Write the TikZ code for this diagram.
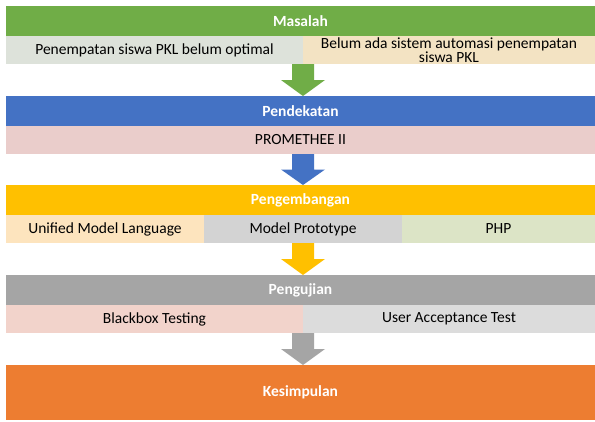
\documentclass[tikz,border=0pt]{standalone}
\usepackage{fontspec}
\setmainfont{Carlito}
\usetikzlibrary{calc}
\definecolor{cGreen}{HTML}{70AD47}
\definecolor{cBlue}{HTML}{4472C4}
\definecolor{cGold}{HTML}{FFC000}
\definecolor{cGray}{HTML}{A5A5A5}
\definecolor{cOrange}{HTML}{ED7D31}
\definecolor{cA}{HTML}{DDE2DA}
\definecolor{cB}{HTML}{F3E3C3}
\definecolor{cC}{HTML}{EACDCB}
\definecolor{cD}{HTML}{FDE4BE}
\definecolor{cE}{HTML}{D3D3D3}
\definecolor{cF}{HTML}{DCE4C6}
\definecolor{cG}{HTML}{F2D3CB}
\definecolor{cH}{HTML}{DCDCDC}
\begin{document}
\begin{tikzpicture}[x=1pt,y=-1pt,
  box/.style={anchor=north west,inner sep=0pt,outer sep=0pt,draw=none,align=center},
  hdr/.style={box,text=white,font=\fontsize{15.5}{17}\selectfont\bfseries,minimum height=30pt},
  cell/.style={box,text=black,font=\fontsize{15.5}{14.5}\selectfont,minimum height=28pt}]
\useasboundingbox[fill=white] (0,0) rectangle (595,421);
\newcommand\flowarrow[3]{%
  \fill[#1] ($(#2)+(-11,0)$) -- ($(#2)+(11,0)$) -- ($(#2)!0.5!(#3)+(11,0)$) -- ($(#2)!0.5!(#3)+(22,0)$) -- (#3) -- ($(#2)!0.5!(#3)+(-22,0)$) -- ($(#2)!0.5!(#3)+(-11,0)$) -- cycle;}
% Masalah
\node[hdr,fill=cGreen,minimum width=589pt] (m) at (6,6) {Masalah};
\node[cell,fill=cA,minimum width=297pt] (m1) at (6,36) {Penempatan siswa PKL belum optimal};
\node[cell,fill=cB,minimum width=292pt] (m2) at (303,36) {Belum ada sistem automasi penempatan\\siswa PKL};
% Pendekatan
\node[hdr,fill=cBlue,minimum width=589pt] (p) at (6,96) {Pendekatan};
\node[cell,fill=cC,minimum width=589pt] (p1) at (6,126) {PROMETHEE II};
% Pengembangan
\node[hdr,fill=cGold,minimum width=589pt] (g) at (6,185) {Pengembangan};
\node[cell,fill=cD,minimum width=198pt] (g1) at (6,215) {Unified Model Language};
\node[cell,fill=cE,minimum width=198pt] (g2) at (204,215) {Model Prototype};
\node[cell,fill=cF,minimum width=193pt] (g3) at (402,215) {PHP};
% Pengujian
\node[hdr,fill=cGray,minimum width=589pt] (u) at (6,275) {Pengujian};
\node[cell,fill=cG,minimum width=297pt] (u1) at (6,305) {Blackbox Testing};
\node[cell,fill=cH,minimum width=292pt] (u2) at (303,305) {User Acceptance Test};
% Kesimpulan
\node[hdr,fill=cOrange,minimum width=589pt,minimum height=55pt] (k) at (6,365) {Kesimpulan};
% arrows
\coordinate (a1) at (m1.south east);
\coordinate (b1) at (a1 |- p.north);
\coordinate (a2) at (a1 |- p1.south);
\coordinate (b2) at (a1 |- g.north);
\coordinate (a3) at (a1 |- g1.south);
\coordinate (b3) at (a1 |- u.north);
\coordinate (a4) at (u1.south east);
\coordinate (b4) at (a1 |- k.north);
\flowarrow{cGreen}{a1}{b1}
\flowarrow{cBlue}{a2}{b2}
\flowarrow{cGold}{a3}{b3}
\flowarrow{cGray}{a4}{b4}
\end{tikzpicture}
\end{document}
